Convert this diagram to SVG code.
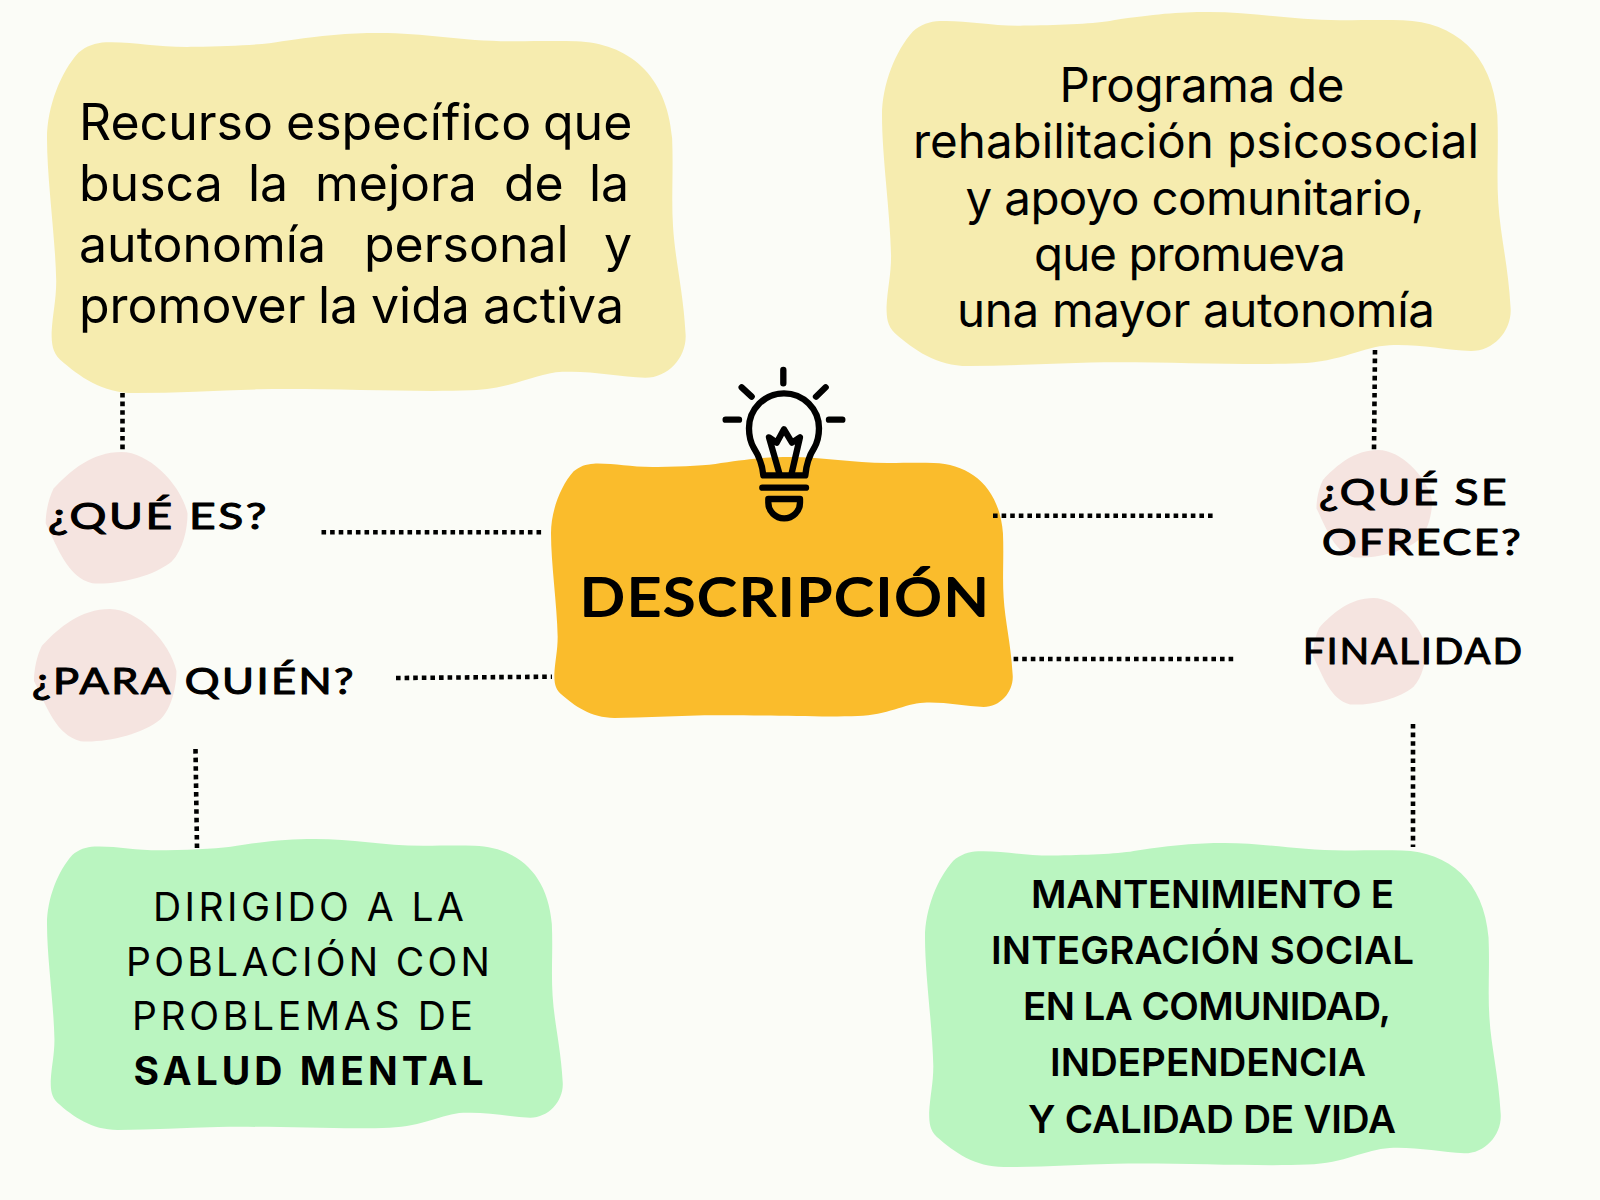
<svg xmlns="http://www.w3.org/2000/svg" xmlns:xlink="http://www.w3.org/1999/xlink" width="1600" height="1200" viewBox="0 0 1600 1200">
<style>
.body{font-family:"Inter","Open Sans","Liberation Sans",sans-serif;fill:#000}
.tl{font-size:50px}
.tr{font-size:47.500px}
.bl{font-size:39px}
.br{font-size:38.500px;font-weight:600}
.hand{font-family:"Lato","Open Sans","Liberation Sans",sans-serif;fill:#000;stroke:#000;font-weight:400;font-size:36px;letter-spacing:2px;stroke-width:1.100px;stroke-linejoin:round}
.dots{fill:none;stroke:#000;stroke-width:4.6;stroke-dasharray:4.6 4}
.bulb{fill:none;stroke:#000;stroke-width:19;stroke-linecap:round;stroke-linejoin:round}
</style>
<defs>
<path id="blob" d="M128,20 C190,18 240,32 320,30 C400,28 470,26 510,18 C600,5 650,0 720,0 C820,0 900,18 1010,18 C1060,18 1100,17 1148,18 C1260,22 1345,90 1356,228 C1359,300 1354,360 1358,420 C1362,490 1380,560 1385,650 C1390,700 1350,748 1298,748 C1240,745 1180,732 1118,735 C1060,738 1010,772 920,775 C800,780 600,770 460,773 C370,775 280,781 190,781 C120,781 70,745 28,708 C12,692 10,675 10,650 C12,610 20,580 20,538 C18,440 0,320 0,228 C0,160 30,85 68,43 C85,28 105,21 128,20 Z"/>
<path id="pebble" d="M212,0 C130,0 70,55 22,110 C8,140 0,180 0,215 C35,290 60,375 130,395 C200,400 300,375 352,330 C385,295 397,230 397,185 C380,100 290,0 212,0 Z"/>
</defs>
<rect id="background" width="1600" height="1200" fill="#FBFCF7"/>

<g id="node-recurso">
<use xlink:href="#blob" href="#blob" fill="#F6ECAF" transform="translate(47,33) scale(.4610,.4610)"/>
<text class="body tl" y="139.500"><tspan x="79">Recurso </tspan><tspan x="286">específico </tspan><tspan x="543">que</tspan></text>
<text class="body tl" y="200.500"><tspan x="79">busca </tspan><tspan x="248">la </tspan><tspan x="315">mejora </tspan><tspan x="504">de </tspan><tspan x="589">la</tspan></text>
<text class="body tl" y="261.500"><tspan x="79">autonomía </tspan><tspan x="364">personal </tspan><tspan x="604">y</tspan></text>
<text class="body tl" y="322.500"><tspan x="79">promover </tspan><tspan x="318">la </tspan><tspan x="371">vida </tspan><tspan x="483">activa</tspan></text>
</g>

<g id="node-programa">
<use xlink:href="#blob" href="#blob" fill="#F6ECAF" transform="translate(882,12) scale(.4538,.4533)"/>
<text class="body tr" x="1059.500" y="102" textLength="285">Programa de</text>
<text class="body tr" x="913" y="158" textLength="566">rehabilitación psicosocial</text>
<text class="body tr" x="965.500" y="214.500" textLength="459">y apoyo comunitario,</text>
<text class="body tr" x="1034" y="271" textLength="312">que promueva</text>
<text class="body tr" x="957" y="327" textLength="478">una mayor autonomía</text>
</g>

<g id="node-dirigido">
<use xlink:href="#blob" href="#blob" fill="#BAF5C0" transform="translate(47,839) scale(.3723,.3726)"/>
<text class="body bl" x="153" y="921" textLength="311">DIRIGIDO A LA</text>
<text class="body bl" x="126" y="976" textLength="364">POBLACIÓN CON</text>
<text class="body bl" x="132" y="1030" textLength="341">PROBLEMAS DE</text>
<text class="body bl" x="133.500" y="1085" textLength="350" font-weight="700">SALUD MENTAL</text>
</g>

<g id="node-mantenimiento">
<use xlink:href="#blob" href="#blob" fill="#BAF5C0" transform="translate(925,843) scale(.4156,.4149)"/>
<text class="body br" x="1031" y="908" textLength="363">MANTENIMIENTO E</text>
<text class="body br" x="991" y="964" textLength="423">INTEGRACIÓN SOCIAL</text>
<text class="body br" x="1023" y="1020" textLength="368">EN LA COMUNIDAD,</text>
<text class="body br" x="1050" y="1076" textLength="316">INDEPENDENCIA</text>
<text class="body br" x="1028" y="1133" textLength="368">Y CALIDAD DE VIDA</text>
</g>

<g id="node-descripcion">
<use xlink:href="#blob" href="#blob" fill="#FABC2C" transform="translate(551,457) scale(.3333,.3342)"/>
<g id="bulb" class="bulb" transform="translate(680,350) scale(.3333)">
<path d="M310,60V100M185,112L215,140M437,112L408,140M137,209H177M447,209H487"/>
<path d="M250,376C246,335 235,315 222,295C210,275 207,255 207,235A105,105 0 0 1 417,235C417,255 414,275 402,295C389,315 380,335 376,376Z"/>
<path d="M298,370L267,262L290,278L312,238L336,278L360,262L335,370"/>
<path d="M247,413H378"/>
<path d="M265,447H360V458A47.500,47 0 0 1 265,458Z"/>
</g>
<text class="hand" x="580" y="616" textLength="411" lengthAdjust="spacingAndGlyphs" style="font-size:52px;stroke-width:2px">DESCRIPCIÓN</text>
</g>

<g id="node-que-es">
<use xlink:href="#pebble" href="#pebble" fill="#F5E4E0" transform="translate(45.700,452) scale(.3573,.3325)"/>
<text class="hand" x="48" y="529" textLength="221" lengthAdjust="spacingAndGlyphs">¿QUÉ ES?</text>
</g>
<g id="node-para-quien">
<use xlink:href="#pebble" href="#pebble" fill="#F5E4E0" transform="translate(34,609) scale(.3588,.3350)"/>
<text class="hand" x="32" y="694" textLength="324" lengthAdjust="spacingAndGlyphs">¿PARA QUIÉN?</text>
</g>
<g id="node-que-se-ofrece">
<use xlink:href="#pebble" href="#pebble" fill="#F5E4E0" transform="translate(1316.500,450) scale(.2913,.2720)"/>
<text class="hand" x="1319" y="505" textLength="190" lengthAdjust="spacingAndGlyphs">¿QUÉ SE</text>
<text class="hand" x="1322" y="555" textLength="201" lengthAdjust="spacingAndGlyphs">OFRECE?</text>
</g>
<g id="node-finalidad">
<use xlink:href="#pebble" href="#pebble" fill="#F5E4E0" transform="translate(1313,598) scale(.2850,.2695)"/>
<text class="hand" x="1303" y="664" textLength="221" lengthAdjust="spacingAndGlyphs">FINALIDAD</text>
</g>

<g id="connectors" class="dots">
<path d="M321.500,532.300H543"/>
<path d="M396,678L552,676.700"/>
<path d="M993,515.700H1213"/>
<path d="M1013.600,659H1234"/>
<path d="M122.500,393V452"/>
<path d="M195.500,749L197,848"/>
<path d="M1375,350L1374,450"/>
<path d="M1413,724V847"/>
</g>
</svg>
